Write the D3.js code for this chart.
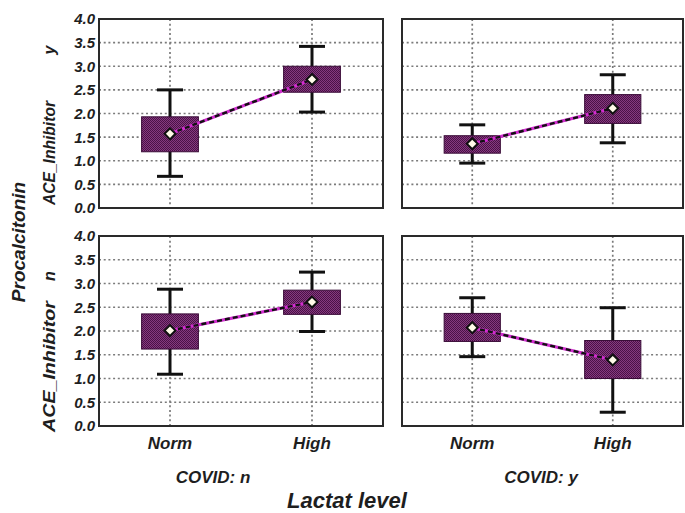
<!DOCTYPE html>
<html>
<head>
<meta charset="utf-8">
<script src="https://cdn.jsdelivr.net/npm/d3@7"></script>
<style>
  body { margin: 0; background: #fff; }
  text { font-family: "Liberation Sans", Arial, sans-serif; font-weight: bold; font-style: italic; fill: #1e1e1e; }
</style>
</head>
<body>
<div id="chart"></div>
<script>
// categories and groups
var categories = ["Norm", "High"];
var covidGroups = ["n", "y"];      // columns
var aceGroups = ["y", "n"];        // rows
var yTicks = [0, 0.5, 1, 1.5, 2, 2.5, 3, 3.5, 4];

// panels in order: top-left, top-right, bottom-left, bottom-right
// each entry is [Norm, High]
var meanVals  = [[1.57, 2.72], [1.36, 2.11], [2.01, 2.61], [2.07, 1.39]];
var boxLow    = [[1.19, 2.45], [1.16, 1.79], [1.62, 2.35], [1.78, 1.00]];
var boxHigh   = [[1.93, 3.00], [1.53, 2.40], [2.36, 2.86], [2.37, 1.80]];
var whiskLow  = [[0.67, 2.03], [0.95, 1.38], [1.09, 1.99], [1.46, 0.29]];
var whiskHigh = [[2.50, 3.42], [1.76, 2.82], [2.88, 3.24], [2.70, 2.49]];

var width = 685, height = 513;
var colX = [[99, 383], [402, 683]];
var rowY = [[19, 208], [236, 426]];

var svg = d3.select("#chart").append("svg")
    .attr("width", width)
    .attr("height", height);

// checkered purple fill
var defs = svg.append("defs");
var pat = defs.append("pattern")
    .attr("id", "check")
    .attr("width", 2).attr("height", 2)
    .attr("patternUnits", "userSpaceOnUse");
pat.append("rect").attr("width", 2).attr("height", 2).attr("fill", "#86397f");
pat.append("rect").attr("width", 1).attr("height", 1).attr("fill", "#4a1247");
pat.append("rect").attr("x", 1).attr("y", 1).attr("width", 1).attr("height", 1).attr("fill", "#4a1247");

var diamond = d3.symbol().type(d3.symbolSquare).size(60);

for (var p = 0; p < 4; p++) {
  var r = Math.floor(p / 2), c = p % 2;
  var x0 = colX[c][0], x1 = colX[c][1];
  var y0 = rowY[r][0], y1 = rowY[r][1];

  var y = d3.scaleLinear().domain([0, 4]).range([y1, y0]);
  var x = d3.scalePoint().domain(categories).range([x0, x1]).padding(0.5);
  var halfBox = (x1 - x0) * 0.1;

  var g = svg.append("g");

  g.append("rect")
    .attr("x", x0).attr("y", y0)
    .attr("width", x1 - x0).attr("height", y1 - y0)
    .attr("fill", "#fff");

  // dotted grid
  g.selectAll(".hgrid")
    .data(yTicks.filter(function(t) { return t > 0 && t < 4; }))
    .enter().append("line")
    .attr("x1", x0).attr("x2", x1)
    .attr("y1", function(d) { return y(d); })
    .attr("y2", function(d) { return y(d); })
    .attr("stroke", "#7a7a7a")
    .attr("stroke-width", 1.7)
    .attr("stroke-dasharray", "2,2.7");

  g.selectAll(".vgrid")
    .data(categories)
    .enter().append("line")
    .attr("x1", function(d) { return x(d); })
    .attr("x2", function(d) { return x(d); })
    .attr("y1", y0).attr("y2", y1)
    .attr("stroke", "#7a7a7a")
    .attr("stroke-width", 1.7)
    .attr("stroke-dasharray", "2,2.7");

  var idx = [0, 1];
  var mv = meanVals[p], bl = boxLow[p], bh = boxHigh[p], wl = whiskLow[p], wh = whiskHigh[p];

  // whiskers
  g.selectAll(".whisk")
    .data(idx).enter().append("line")
    .attr("x1", function(i) { return x(categories[i]); })
    .attr("x2", function(i) { return x(categories[i]); })
    .attr("y1", function(i) { return y(wl[i]); })
    .attr("y2", function(i) { return y(wh[i]); })
    .attr("stroke", "#111").attr("stroke-width", 3);

  [wl, wh].forEach(function(arr) {
    g.selectAll(null)
      .data(idx).enter().append("line")
      .attr("x1", function(i) { return x(categories[i]) - 13; })
      .attr("x2", function(i) { return x(categories[i]) + 13; })
      .attr("y1", function(i) { return y(arr[i]); })
      .attr("y2", function(i) { return y(arr[i]); })
      .attr("stroke", "#111").attr("stroke-width", 3);
  });

  // boxes
  g.selectAll(".box")
    .data(idx).enter().append("rect")
    .attr("x", function(i) { return x(categories[i]) - halfBox; })
    .attr("width", halfBox * 2)
    .attr("y", function(i) { return y(bh[i]); })
    .attr("height", function(i) { return y(bl[i]) - y(bh[i]); })
    .attr("fill", "url(#check)")
    .attr("stroke", "#3a0c38")
    .attr("stroke-width", 1);

  // mean line
  g.append("line")
    .attr("x1", x(categories[0])).attr("y1", y(mv[0]))
    .attr("x2", x(categories[1])).attr("y2", y(mv[1]))
    .attr("stroke", "#d22cd0").attr("stroke-width", 3.2);
  g.append("line")
    .attr("x1", x(categories[0])).attr("y1", y(mv[0]))
    .attr("x2", x(categories[1])).attr("y2", y(mv[1]))
    .attr("stroke", "#111").attr("stroke-width", 2.4)
    .attr("stroke-dasharray", "5,3");

  // mean markers
  g.selectAll(".mean")
    .data(idx).enter().append("path")
    .attr("d", diamond)
    .attr("transform", function(i) {
      return "translate(" + x(categories[i]) + "," + y(mv[i]) + ") rotate(45)";
    })
    .attr("fill", "#fffbe9")
    .attr("stroke", "#111")
    .attr("stroke-width", 2);

  // frame
  g.append("rect")
    .attr("x", x0).attr("y", y0)
    .attr("width", x1 - x0).attr("height", y1 - y0)
    .attr("fill", "none")
    .attr("stroke", "#2a2a2a")
    .attr("stroke-width", 2);

  // y tick labels on the left column
  if (c == 0) {
    g.selectAll(".ytick")
      .data(yTicks).enter().append("text")
      .attr("x", x0 - 4)
      .attr("y", function(d) { return y(d); })
      .attr("dy", "0.36em")
      .attr("text-anchor", "end")
      .style("font-size", "15px")
      .text(function(d) { return d.toFixed(1); });
  }

  // x tick labels on the bottom row
  if (r == 1) {
    g.selectAll(".xtick")
      .data(categories).enter().append("text")
      .attr("x", function(d) { return x(d); })
      .attr("y", 449)
      .attr("text-anchor", "middle")
      .style("font-size", "17px")
      .text(function(d) { return d; });
  }
}

// row labels
var aceLabel = [
  { y: 205, len: 104, tagY: 50 },
  { y: 432, len: 131, tagY: 276 }
];
aceLabel.forEach(function(d, i) {
  svg.append("text")
    .attr("transform", "translate(55," + d.y + ") rotate(-90)")
    .attr("textLength", d.len)
    .attr("lengthAdjust", "spacingAndGlyphs")
    .style("font-size", "16px")
    .text("ACE_Inhibitor");
  svg.append("text")
    .attr("transform", "translate(55," + d.tagY + ") rotate(-90)")
    .attr("text-anchor", "middle")
    .style("font-size", "16px")
    .text(aceGroups[i]);
});

svg.append("text")
  .attr("transform", "translate(25,242) rotate(-90)")
  .attr("text-anchor", "middle")
  .style("font-size", "19px")
  .text("Procalcitonin");

// column labels
var covidX = [213, 541];
covidGroups.forEach(function(d, i) {
  svg.append("text")
    .attr("x", covidX[i]).attr("y", 483)
    .attr("text-anchor", "middle")
    .style("font-size", "17px")
    .text("COVID: " + d);
});

svg.append("text")
  .attr("x", 347).attr("y", 508)
  .attr("text-anchor", "middle")
  .style("font-size", "22px")
  .text("Lactat level");
</script>
</body>
</html>
